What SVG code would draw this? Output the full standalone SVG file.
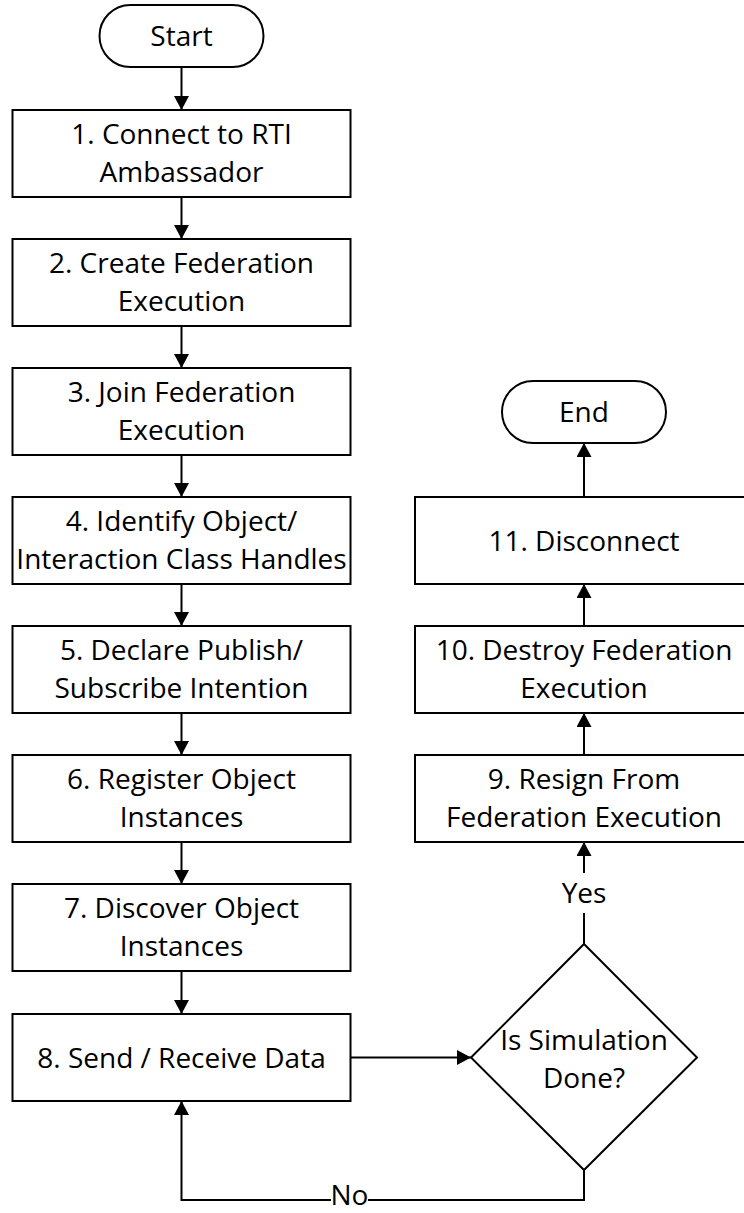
<svg xmlns="http://www.w3.org/2000/svg" width="744" height="1213" viewBox="0 0 744 1213">
  <style>
    .shape { fill: #ffffff; stroke: #000000; stroke-width: 2; }
    .link { fill: none; stroke: #000000; stroke-width: 2; }
    .arrow { marker-end: url(#head); }
    text { font-family: "Open Sans", "Liberation Sans", sans-serif; font-size: 28px; fill: #000000; text-anchor: middle; }
  </style>
  <defs>
    <marker id="head" markerUnits="userSpaceOnUse" markerWidth="15" markerHeight="15" refX="14" refY="7.5" orient="auto">
      <path d="M0,0 L14,7.5 L0,15 Z" fill="#000000"/>
    </marker>
  </defs>

  <rect width="744" height="1213" fill="#ffffff"/>

  <!-- connectors -->
  <g id="connectors">
    <line class="link arrow" x1="181.5" y1="67" x2="181.5" y2="110"/>
    <line class="link arrow" x1="181.5" y1="197" x2="181.5" y2="239"/>
    <line class="link arrow" x1="181.5" y1="326" x2="181.5" y2="368"/>
    <line class="link arrow" x1="181.5" y1="455" x2="181.5" y2="497"/>
    <line class="link arrow" x1="181.5" y1="584" x2="181.5" y2="626"/>
    <line class="link arrow" x1="181.5" y1="713" x2="181.5" y2="755"/>
    <line class="link arrow" x1="181.5" y1="842" x2="181.5" y2="884"/>
    <line class="link arrow" x1="181.5" y1="971" x2="181.5" y2="1014"/>
    <!-- 8 -> decision -->
    <line class="link arrow" x1="350" y1="1057.5" x2="471" y2="1057.5"/>
    <!-- decision: Yes -->
    <line class="link" x1="584" y1="944" x2="584" y2="913"/>
    <line class="link arrow" x1="584" y1="873" x2="584" y2="842"/>
    <text x="584" y="903">Yes</text>
    <!-- decision: No -->
    <polyline class="link" points="584,1170 584,1200 368,1200"/>
    <polyline class="link arrow" points="331,1200 181.5,1200 181.5,1101"/>
    <text x="349.5" y="1205">No</text>
    <!-- right column upwards -->
    <line class="link arrow" x1="584" y1="755" x2="584" y2="713"/>
    <line class="link arrow" x1="584" y1="626" x2="584" y2="584"/>
    <line class="link arrow" x1="584" y1="497" x2="584" y2="443"/>
  </g>

  <g id="start">
    <rect class="shape" x="99.5" y="5" width="164" height="62" rx="31" ry="31"/>
    <text x="181.5" y="46">Start</text>
  </g>

  <g id="step1">
    <rect class="shape" x="12.5" y="110" width="338" height="87"/>
    <text x="181.5" y="144">1. Connect to RTI</text>
    <text x="181.5" y="182">Ambassador</text>
  </g>

  <g id="step2">
    <rect class="shape" x="12.5" y="239" width="338" height="87"/>
    <text x="181.5" y="273">2. Create Federation</text>
    <text x="181.5" y="311">Execution</text>
  </g>

  <g id="step3">
    <rect class="shape" x="12.5" y="368" width="338" height="87"/>
    <text x="181.5" y="402">3. Join Federation</text>
    <text x="181.5" y="440">Execution</text>
  </g>

  <g id="step4">
    <rect class="shape" x="12.5" y="497" width="338" height="87"/>
    <text x="181.5" y="531">4. Identify Object/</text>
    <text x="181.5" y="569">Interaction Class Handles</text>
  </g>

  <g id="step5">
    <rect class="shape" x="12.5" y="626" width="338" height="87"/>
    <text x="181.5" y="660">5. Declare Publish/</text>
    <text x="181.5" y="698">Subscribe Intention</text>
  </g>

  <g id="step6">
    <rect class="shape" x="12.5" y="755" width="338" height="87"/>
    <text x="181.5" y="789">6. Register Object</text>
    <text x="181.5" y="827">Instances</text>
  </g>

  <g id="step7">
    <rect class="shape" x="12.5" y="884" width="338" height="87"/>
    <text x="181.5" y="918">7. Discover Object</text>
    <text x="181.5" y="956">Instances</text>
  </g>

  <g id="step8">
    <rect class="shape" x="12.5" y="1014" width="338" height="87"/>
    <text x="181.5" y="1067.5">8. Send / Receive Data</text>
  </g>

  <g id="decision">
    <polygon class="shape" points="584,944 697,1057.5 584,1170 471,1057.5"/>
    <text x="584" y="1050">Is Simulation</text>
    <text x="584" y="1088">Done?</text>
  </g>

  <g id="step9">
    <rect class="shape" x="415" y="755" width="338" height="87"/>
    <text x="584" y="789">9. Resign From</text>
    <text x="584" y="827">Federation Execution</text>
  </g>

  <g id="step10">
    <rect class="shape" x="415" y="626" width="338" height="87"/>
    <text x="584" y="660">10. Destroy Federation</text>
    <text x="584" y="698">Execution</text>
  </g>

  <g id="step11">
    <rect class="shape" x="415" y="497" width="338" height="87"/>
    <text x="584" y="550.5">11. Disconnect</text>
  </g>

  <g id="end">
    <rect class="shape" x="502" y="381" width="164" height="62" rx="31" ry="31"/>
    <text x="584" y="422">End</text>
  </g>
</svg>
